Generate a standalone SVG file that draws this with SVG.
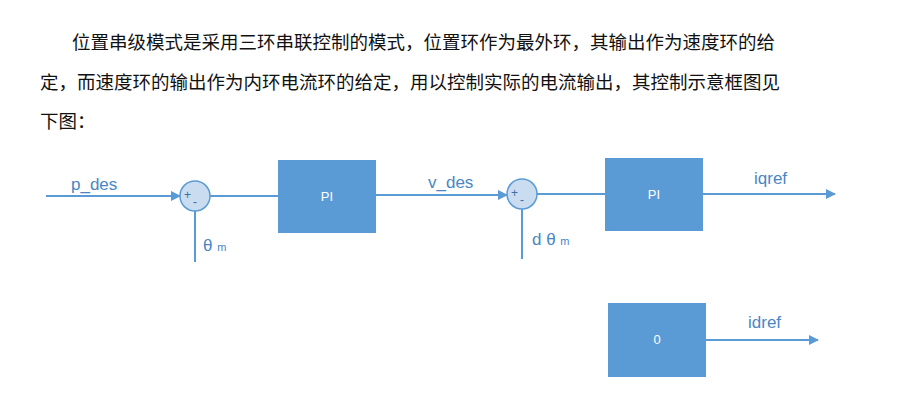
<svg xmlns="http://www.w3.org/2000/svg" width="897" height="405" viewBox="0 0 897 405">
<style>
.t{font-family:"Noto Sans CJK SC",sans-serif;font-size:18.5px;fill:#111}
.l{font-family:"Liberation Sans",sans-serif;font-size:17px;fill:#4a86c5}
.b{fill:#5b9bd5}
.bt{font-family:"Liberation Sans",sans-serif;font-size:13px;fill:#fff;text-anchor:middle}
.w{stroke:#5b9bd5;stroke-width:2;fill:none}
.s{fill:#c9dcf0;stroke:#5b9bd5;stroke-width:1.5}
.pm{font-family:"Liberation Sans",sans-serif;font-size:12px;fill:#3d6fa6}
</style>
<defs><marker id="a" markerWidth="10" markerHeight="10" refX="9" refY="5" orient="auto" markerUnits="userSpaceOnUse"><path d="M0,0 L10,5 L0,10z" fill="#5b9bd5"/></marker></defs>
<rect width="897" height="405" fill="#fff"/>
<text class="t" x="72" y="49">位置串级模式是采用三环串联控制的模式，位置环作为最外环，其输出作为速度环的给</text>
<text class="t" x="40" y="89">定，而速度环的输出作为内环电流环的给定，用以控制实际的电流输出，其控制示意框图见</text>
<text class="t" x="40" y="128">下图：</text>
<g id="connectors">
<line class="w" x1="46" y1="196" x2="180" y2="196" marker-end="url(#a)"/>
<line class="w" x1="195" y1="211" x2="195" y2="262"/>
<line class="w" x1="210" y1="196" x2="278" y2="196"/>
<line class="w" x1="376" y1="195" x2="507" y2="195" marker-end="url(#a)"/>
<line class="w" x1="522" y1="209" x2="522" y2="259"/>
<line class="w" x1="537" y1="194" x2="605" y2="194"/>
<line class="w" x1="703" y1="194" x2="835" y2="194" marker-end="url(#a)"/>
<line class="w" x1="706" y1="340" x2="818" y2="340" marker-end="url(#a)"/>
</g>
<g id="sum1"><circle class="s" cx="195" cy="196" r="15"/><text class="pm" x="184" y="199">+</text><text class="pm" x="193" y="206">-</text></g>
<g id="sum2"><circle class="s" cx="522" cy="194" r="15"/><text class="pm" x="511" y="197">+</text><text class="pm" x="520" y="204">-</text></g>
<g id="pi1"><rect class="b" x="278" y="160" width="98" height="73"/><text class="bt" x="327" y="201">PI</text></g>
<g id="pi2"><rect class="b" x="605" y="158" width="98" height="73"/><text class="bt" x="654" y="199">PI</text></g>
<g id="zero"><rect class="b" x="608" y="303" width="98" height="74"/><text class="bt" x="657" y="344">0</text></g>
<text class="l" x="71" y="190">p_des</text>
<text class="l" x="203" y="251">θ <tspan font-size="11">m</tspan></text>
<text class="l" x="428" y="188">v_des</text>
<text class="l" x="532" y="245">d θ <tspan font-size="11">m</tspan></text>
<text class="l" x="754" y="184">iqref</text>
<text class="l" x="748" y="328">idref</text>
</svg>
